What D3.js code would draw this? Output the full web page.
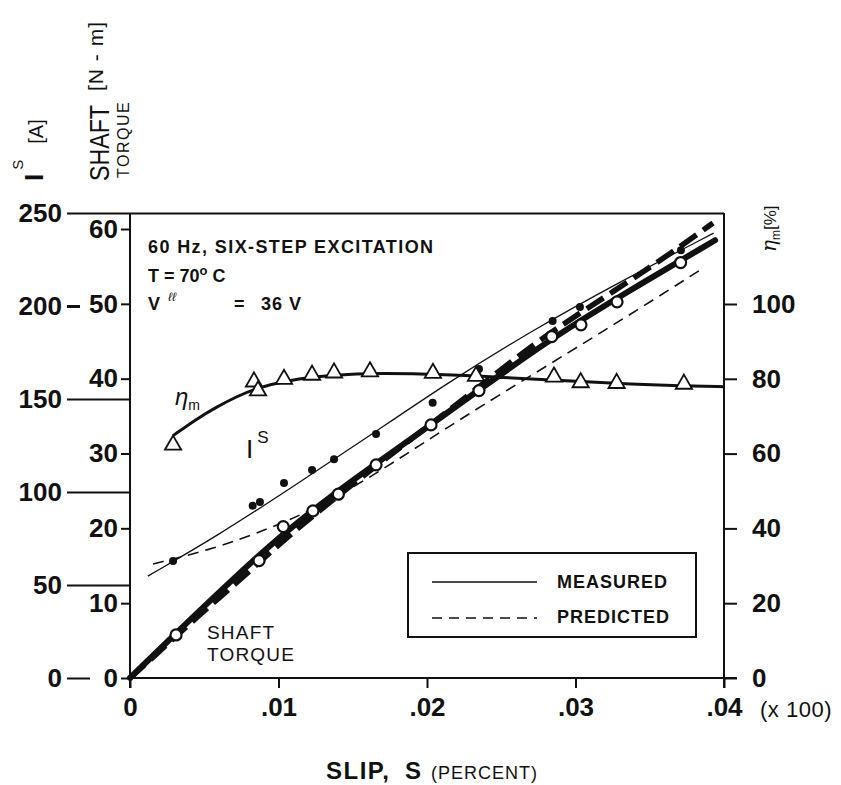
<!DOCTYPE html>
<html><head><meta charset="utf-8">
<script src="https://cdn.jsdelivr.net/npm/d3@7"></script>
<style>
body{margin:0;background:#fff;}
svg{display:block;}
text{font-family:"Liberation Sans",Arial,sans-serif;fill:#111;}
</style></head>
<body>
<svg id="c" width="841" height="785"></svg>
<script>
// ---------- data ----------
const xTicks = [0, 0.01, 0.02, 0.03, 0.04];
const xTickLabels = ["0", ".01", ".02", ".03", ".04"];
const currentTicks = [0, 50, 100, 150, 200, 250];
const torqueTicks = [0, 10, 20, 30, 40, 50, 60];
const effTicks = [0, 20, 40, 60, 80, 100];

// efficiency (triangles) and its fitted curve
const slipEff = [0.0029, 0.00835, 0.00862, 0.01037, 0.01226, 0.01374, 0.01616, 0.0204, 0.0233, 0.02855, 0.03035, 0.03277, 0.0373];
const effPts  = [62.3, 79.2, 76.8, 79.9, 81.0, 81.6, 81.9, 81.5, 80.7, 80.5, 79.0, 78.8, 78.6];
const slipEffFit = [0.0029, 0.0045, 0.0058, 0.0072, 0.0086, 0.0106, 0.0135, 0.0168, 0.0214, 0.0250, 0.0290, 0.0330, 0.0373, 0.04];
const effFit     = [64.8, 69.3, 72.4, 75.3, 77.6, 79.6, 81.0, 81.6, 81.1, 80.4, 79.5, 78.7, 78.1, 77.9];

// stator current I^S: measured dots + measured fit + predicted
const slipIm = [0.0029, 0.00826, 0.00875, 0.01037, 0.01226, 0.01374, 0.01657, 0.02038, 0.0235, 0.02846, 0.0303, 0.0371];
const currMeas = [62.9, 92.6, 94.6, 104.8, 111.8, 117.6, 131.2, 148.0, 166.1, 191.9, 199.5, 230];
const slipImFit = [0.0012, 0.0060, 0.0110, 0.0160, 0.0214, 0.0270, 0.0330, 0.0393];
const currMeasFit = [54.8, 77.0, 103.0, 129.5, 158.8, 186.5, 213.0, 239.2];
const slipIp = [0.00155, 0.0056, 0.0092, 0.0123, 0.0160, 0.0195, 0.0231, 0.0298, 0.0343, 0.0386];
const currPred = [61.3, 69.3, 79.8, 90.3, 107.0, 125.0, 143.5, 176.3, 198.5, 220.4];

// shaft torque: measured circles + measured fit + predicted
const slipTm = [0.0031, 0.00869, 0.01032, 0.01232, 0.01403, 0.01657, 0.02027, 0.0235, 0.0284, 0.03037, 0.0328, 0.03708];
const torqueMeas = [5.75, 15.68, 20.23, 22.33, 24.56, 28.48, 33.82, 38.41, 45.63, 47.19, 50.27, 55.52];
const slipTmFit = [0, 0.0031, 0.0067, 0.0103, 0.0140, 0.0166, 0.0203, 0.0235, 0.0284, 0.0328, 0.0394];
const torqueMeasFit = [0, 6.0, 12.8, 19.3, 25.0, 28.7, 33.9, 38.5, 45.4, 50.8, 58.5];
const slipTp = [0, 0.00135, 0.00451, 0.00741, 0.01057, 0.01347, 0.01704, 0.02088, 0.02559, 0.02875, 0.03253, 0.03657, 0.03926];
const torquePred = [0, 2.4, 8.16, 13.1, 18.85, 23.5, 29.1, 34.8, 42.2, 46.8, 51.6, 56.95, 60.8];

const legendItems = ["MEASURED", "PREDICTED"];

// ---------- scales ----------
const svg = d3.select("#c");
const x = d3.scaleLinear().domain([0, 0.04]).range([130, 724]);
const yI = d3.scaleLinear().domain([0, 250]).range([678, 213]);
const yT = d3.scaleLinear().domain([0, 60]).range([678, 229]);
const yE = d3.scaleLinear().domain([0, 100]).range([678, 304]);

const zip = (a, b) => a.map((v, i) => [v, b[i]]);
const FONT = '"Liberation Sans",Arial,sans-serif';

// ---------- axes ----------
function styleAxis(g, fs) {
  g.select(".domain").remove();
  g.selectAll("line").attr("stroke", "#111").attr("stroke-width", 2);
  g.selectAll("text").attr("font-size", fs).attr("font-family", FONT).attr("font-weight", "bold").attr("fill", "#111");
}
// outer current axis
const gI = svg.append("g").attr("transform", "translate(130,0)")
  .call(d3.axisLeft(yI).tickValues(currentTicks).tickSize(63).tickPadding(5).tickFormat(d3.format("d")));
styleAxis(gI, 26);
gI.selectAll(".tick").each(function(d){
  const ln = d3.select(this).select("line");
  if (d === 200) ln.attr("x1", -50).attr("stroke-width", 3);
  if (d === 0) ln.attr("x1", -40);
  if (d === 250) ln.attr("x1", x(0.04) - 130);
});
// inner torque axis
const gT = svg.append("g").attr("transform", "translate(130,0)")
  .call(d3.axisLeft(yT).tickValues(torqueTicks).tickSize(9).tickPadding(3).tickFormat(d3.format("d")));
styleAxis(gT, 26);
// right efficiency axis
const gE = svg.append("g").attr("transform", "translate(724,0)")
  .call(d3.axisRight(yE).tickValues(effTicks).tickSize(13).tickPadding(15).tickFormat(d3.format("d")));
styleAxis(gE, 26);
// x axis
const gX = svg.append("g").attr("transform", "translate(0,678)")
  .call(d3.axisBottom(x).tickValues(xTicks).tickSize(10).tickPadding(10).tickFormat((d, i) => xTickLabels[i]));
styleAxis(gX, 26);

// frame lines
svg.append("line").attr("x1", 130).attr("x2", 130).attr("y1", 213).attr("y2", 688).attr("stroke", "#111").attr("stroke-width", 2);
svg.append("line").attr("x1", 724).attr("x2", 724).attr("y1", 213).attr("y2", 688).attr("stroke", "#111").attr("stroke-width", 2);
svg.append("line").attr("x1", 130).attr("x2", 737).attr("y1", 678).attr("y2", 678).attr("stroke", "#111").attr("stroke-width", 2);

// ---------- curves ----------
const lineI = d3.line().x(d => x(d[0])).y(d => yI(d[1])).curve(d3.curveBasis);
const lineT = d3.line().x(d => x(d[0])).y(d => yT(d[1])).curve(d3.curveBasis);
const lineE = d3.line().x(d => x(d[0])).y(d => yE(d[1])).curve(d3.curveBasis);

// current measured (thin solid) and predicted (thin dashed)
svg.append("path").attr("d", lineI(zip(slipImFit, currMeasFit))).attr("fill", "none").attr("stroke", "#111").attr("stroke-width", 1.3);
svg.append("path").attr("d", lineI(zip(slipIp, currPred))).attr("fill", "none").attr("stroke", "#111").attr("stroke-width", 1.6).attr("stroke-dasharray", "11,7");
// measured current dots
svg.append("g").selectAll("circle").data(zip(slipIm, currMeas)).join("circle")
  .attr("cx", d => x(d[0])).attr("cy", d => yI(d[1])).attr("r", 4).attr("fill", "#111");

// torque measured (thick solid) and predicted (thick dashed)
svg.append("path").attr("d", lineT(zip(slipTmFit, torqueMeasFit))).attr("fill", "none").attr("stroke", "#111").attr("stroke-width", 6).attr("stroke-linecap", "round");
svg.append("path").attr("d", lineT(zip(slipTp, torquePred))).attr("fill", "none").attr("stroke", "#111").attr("stroke-width", 5.5).attr("stroke-dasharray", "20,8");

// efficiency fit
svg.append("path").attr("d", lineE(zip(slipEffFit, effFit))).attr("fill", "none").attr("stroke", "#111").attr("stroke-width", 3);

// torque circles
svg.append("g").selectAll("circle").data(zip(slipTm, torqueMeas)).join("circle")
  .attr("cx", d => x(d[0])).attr("cy", d => yT(d[1])).attr("r", 5.5).attr("fill", "#fff").attr("stroke", "#111").attr("stroke-width", 2.2);

// efficiency triangles
const tri = d3.symbol(d3.symbolTriangle, 115);
svg.append("g").selectAll("path").data(zip(slipEff, effPts)).join("path")
  .attr("d", tri).attr("transform", d => `translate(${x(d[0])},${yE(d[1])})`)
  .attr("fill", "#fff").attr("stroke", "#111").attr("stroke-width", 1.8);

// ---------- legend ----------
svg.append("rect").attr("x", 408).attr("y", 553).attr("width", 288).attr("height", 84).attr("fill", "none").attr("stroke", "#111").attr("stroke-width", 2);
svg.append("line").attr("x1", 432).attr("x2", 537).attr("y1", 582).attr("y2", 582).attr("stroke", "#111").attr("stroke-width", 1.3);
svg.append("line").attr("x1", 432).attr("x2", 537).attr("y1", 618).attr("y2", 618).attr("stroke", "#111").attr("stroke-width", 1.5).attr("stroke-dasharray", "10,7");
svg.append("text").attr("x", 557).attr("y", 588).attr("font-size", 18).attr("font-weight", "bold").attr("letter-spacing", 1).text(legendItems[0]);
svg.append("text").attr("x", 557).attr("y", 623).attr("font-size", 18).attr("font-weight", "bold").attr("letter-spacing", 1).text(legendItems[1]);

// ---------- annotations ----------
svg.append("text").attr("x", 148).attr("y", 253).attr("font-size", 18).attr("font-weight", "bold").attr("letter-spacing", 1.4).text("60 Hz, SIX-STEP EXCITATION");
const tT = svg.append("text").attr("x", 148).attr("y", 282).attr("font-size", 18).attr("font-weight", "bold");
tT.append("tspan").text("T = 70");
tT.append("tspan").attr("font-size", 13).attr("dy", -7).text("o");
tT.append("tspan").attr("dy", 7).text(" C");
svg.append("text").attr("x", 148).attr("y", 310).attr("font-size", 18).attr("font-weight", "bold").text("V");
svg.append("text").attr("x", 168).attr("y", 301).attr("font-size", 12).attr("font-style", "italic").text("ℓℓ");
svg.append("text").attr("x", 234).attr("y", 310).attr("font-size", 18).attr("font-weight", "bold").text("=");
svg.append("text").attr("x", 261).attr("y", 310).attr("font-size", 18).attr("font-weight", "bold").attr("letter-spacing", 1).text("36 V");

// eta_m label on the curve
const tEta = svg.append("text").attr("x", 175).attr("y", 405).attr("font-size", 24).attr("font-family", '"DejaVu Serif",serif').attr("font-style", "italic");
tEta.append("tspan").text("η");
tEta.append("tspan").attr("font-size", 14).attr("dy", 5).attr("font-style", "normal").text("m");
// I^S label
const tIs = svg.append("text").attr("x", 246).attr("y", 458).attr("font-size", 26);
tIs.append("tspan").text("I");
tIs.append("tspan").attr("font-size", 17).attr("dx", 4).attr("dy", -15).text("S");
// SHAFT TORQUE label
svg.append("text").attr("x", 207).attr("y", 639).attr("font-size", 19).attr("letter-spacing", 1.2).text("SHAFT");
svg.append("text").attr("x", 207).attr("y", 661).attr("font-size", 19).attr("letter-spacing", 1.2).text("TORQUE");

// left-top axis titles (rotated)
const a1 = svg.append("text").attr("transform", "translate(43,181) rotate(-90)").attr("font-size", 26).attr("font-weight", "bold");
a1.append("tspan").text("I");
a1.append("tspan").attr("font-size", 15).attr("font-weight", "normal").attr("dx", 4).attr("dy", -20).text("S");
a1.append("tspan").attr("font-size", 20).attr("font-weight", "normal").attr("dx", 16).attr("dy", 20).text("[A]");
const a2 = svg.append("text").attr("transform", "translate(109,181) rotate(-90)");
a2.append("tspan").attr("font-size", 27).attr("textLength", 76).attr("lengthAdjust", "spacingAndGlyphs").text("SHAFT");
a2.append("tspan").attr("font-size", 21).attr("dx", 14).attr("dy", -6).attr("letter-spacing", 1).text("[N - m]");
svg.append("text").attr("transform", "translate(129,178) rotate(-90)").attr("font-size", 16).attr("letter-spacing", 1.5).text("TORQUE");

// right axis title
const a3 = svg.append("text").attr("transform", "translate(776,252) rotate(-90)").attr("font-size", 20);
a3.append("tspan").attr("font-family", '"DejaVu Serif",serif').attr("font-style", "italic").text("η");
a3.append("tspan").attr("font-size", 12).attr("dy", 4).text("m");
a3.append("tspan").attr("dy", -4).attr("font-size", 17).text("[%]");

// x axis extras
svg.append("text").attr("x", 760).attr("y", 717).attr("font-size", 22).attr("letter-spacing", 0.5).text("(x 100)");
const xt = svg.append("text").attr("y", 779);
xt.append("tspan").attr("x", 326).attr("font-size", 24).attr("font-weight", "bold").attr("letter-spacing", 1.5).text("SLIP,");
xt.append("tspan").attr("x", 405).attr("font-size", 24).attr("font-weight", "bold").text("S");
xt.append("tspan").attr("x", 431).attr("font-size", 18).attr("letter-spacing", 1).text("(PERCENT)");
</script>
</body></html>
